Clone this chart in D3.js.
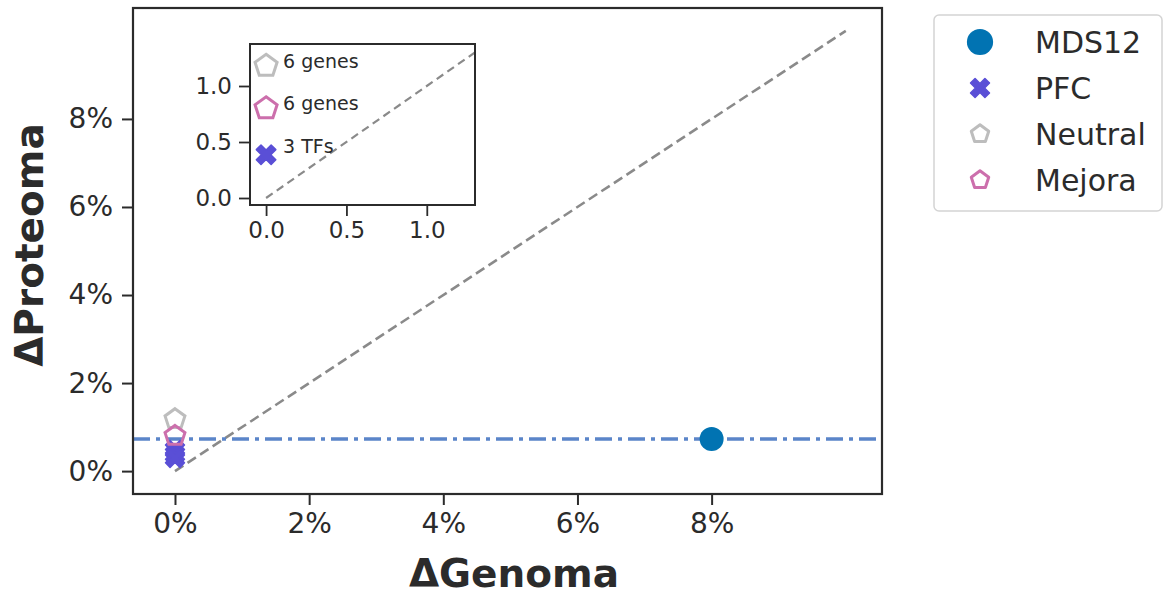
<!DOCTYPE html>
<html>
<head>
<meta charset="utf-8">
<script src="https://cdn.jsdelivr.net/npm/d3@7"></script>
<style>
  html, body { margin: 0; padding: 0; background: #fff; }
  svg { display: block; font-family: "DejaVu Sans", sans-serif; }
</style>
</head>
<body>
<svg id="chart" width="1163" height="596"></svg>
<script>
// ---- data (percent) ----
const mdsX = [8.0];
const mdsY = [0.73];
const pfcX = [0, 0, 0];
const pfcY = [0.48, 0.38, 0.30];
const neutralX = [0];
const neutralY = [1.18];
const mejoraX = [0];
const mejoraY = [0.80];
const baseline = 0.73;            // horizontal reference level
const diagonalEnd = 10;           // y = x reference line extent
const xTicks = [0, 2, 4, 6, 8];
const yTicks = [0, 2, 4, 6, 8];
const insetTicks = [0.0, 0.5, 1.0];
const insetLabels = ["6 genes", "6 genes", "3 TFs"];
const legendNames = ["MDS12", "PFC", "Neutral", "Mejora"];

const C = {
  mds: "#0173b2",
  pfc: "#5a4fd6",
  neutral: "#bdbdbd",
  mejora: "#cc6fac",
  hline: "#5b85c9",
  diag: "#8a8a8a",
  text: "#2b2b2b"
};

// custom marker shapes
const pentagon = {
  draw(ctx, size) {
    const r = Math.sqrt(size / 2.378);
    for (let i = 0; i < 5; i++) {
      const a = -Math.PI / 2 + i * 2 * Math.PI / 5;
      const x = r * Math.cos(a), y = r * Math.sin(a);
      i ? ctx.lineTo(x, y) : ctx.moveTo(x, y);
    }
    ctx.closePath();
  }
};
const thickX = {
  draw(ctx, size) {
    const r = Math.sqrt(size) / 2, w = r * 0.48;
    const pts = [[0, -w], [r - w, -r], [r, -r + w], [w, 0], [r, r - w], [r - w, r],
                 [0, w], [-r + w, r], [-r, r - w], [-w, 0], [-r, -r + w], [-r + w, -r]];
    pts.forEach((p, i) => i ? ctx.lineTo(p[0], p[1]) : ctx.moveTo(p[0], p[1]));
    ctx.closePath();
  }
};

const svg = d3.select("#chart");

// ---- main axes ----
const M = { left: 133, right: 882, top: 8, bottom: 494 };
const x = d3.scaleLinear().domain([-0.626, 10.54]).range([M.left, M.right]);
const y = d3.scaleLinear().domain([-0.52, 10.52]).range([M.bottom, M.top]);

const main = svg.append("g");
main.append("defs").append("clipPath").attr("id", "mainClip")
  .append("rect").attr("x", M.left).attr("y", M.top)
  .attr("width", M.right - M.left).attr("height", M.bottom - M.top);

const plot = main.append("g").attr("clip-path", "url(#mainClip)");

// reference lines
plot.append("line")
  .attr("x1", x(0)).attr("y1", y(0)).attr("x2", x(diagonalEnd)).attr("y2", y(diagonalEnd))
  .attr("stroke", C.diag).attr("stroke-width", 2.6).attr("stroke-dasharray", "10,5");
plot.append("line")
  .attr("x1", M.left).attr("x2", M.right).attr("y1", y(baseline)).attr("y2", y(baseline))
  .attr("stroke", C.hline).attr("stroke-width", 3.4).attr("stroke-dasharray", "17,6,4,6");

// markers
plot.selectAll(".neutral").data(neutralY).join("path")
  .attr("transform", (d, i) => `translate(${x(neutralX[i])},${y(d)})`)
  .attr("d", d3.symbol().type(pentagon).size(260))
  .attr("fill", "#fff").attr("stroke", C.neutral).attr("stroke-width", 3);
plot.selectAll(".pfc").data(pfcY).join("path")
  .attr("transform", (d, i) => `translate(${x(pfcX[i])},${y(d)})`)
  .attr("d", d3.symbol().type(thickX).size(360))
  .attr("fill", C.pfc).attr("stroke", C.pfc).attr("stroke-width", 1.5).attr("stroke-linejoin", "round");
plot.selectAll(".mejora").data(mejoraY).join("path")
  .attr("transform", (d, i) => `translate(${x(mejoraX[i])},${y(d)})`)
  .attr("d", d3.symbol().type(pentagon).size(260))
  .attr("fill", "#fff").attr("fill-opacity", 0).attr("stroke", C.mejora).attr("stroke-width", 3);
plot.selectAll(".mds").data(mdsY).join("circle")
  .attr("cx", (d, i) => x(mdsX[i])).attr("cy", d => y(d)).attr("r", 12)
  .attr("fill", C.mds);

// axes
const pct = d => d + "%";
const xAxis = main.append("g").attr("transform", `translate(0,${M.bottom})`)
  .call(d3.axisBottom(x).tickValues(xTicks).tickFormat(pct).tickSize(11).tickPadding(8));
const yAxis = main.append("g").attr("transform", `translate(${M.left},0)`)
  .call(d3.axisLeft(y).tickValues(yTicks).tickFormat(pct).tickSize(11).tickPadding(9));
[xAxis, yAxis].forEach(a => {
  a.select(".domain").remove();
  a.selectAll(".tick line").attr("stroke", C.text).attr("stroke-width", 2);
  a.selectAll(".tick text").attr("fill", C.text).attr("font-size", 28)
    .attr("font-family", "DejaVu Sans");
});
main.append("rect").attr("x", M.left).attr("y", M.top)
  .attr("width", M.right - M.left).attr("height", M.bottom - M.top)
  .attr("fill", "none").attr("stroke", C.text).attr("stroke-width", 2.2);

// axis titles
svg.append("text").attr("x", 514).attr("y", 587)
  .attr("text-anchor", "middle").attr("font-size", 39).attr("font-weight", "bold")
  .attr("fill", C.text).text("ΔGenoma");
svg.append("text").attr("transform", `translate(43,${245}) rotate(-90)`)
  .attr("text-anchor", "middle").attr("font-size", 39).attr("font-weight", "bold")
  .attr("fill", C.text).text("ΔProteoma");

// ---- inset ----
const I = { left: 250, right: 475, top: 44, bottom: 205 };
const ix = d3.scaleLinear().domain([-0.1, 1.3]).range([I.left, I.right]);
const iy = d3.scaleLinear().domain([-0.0625, 1.375]).range([I.bottom, I.top]);

const inset = svg.append("g");
inset.append("rect").attr("x", I.left).attr("y", I.top)
  .attr("width", I.right - I.left).attr("height", I.bottom - I.top).attr("fill", "#fff");
inset.append("defs").append("clipPath").attr("id", "insetClip")
  .append("rect").attr("x", I.left).attr("y", I.top)
  .attr("width", I.right - I.left).attr("height", I.bottom - I.top);
const ip = inset.append("g").attr("clip-path", "url(#insetClip)");
ip.append("line")
  .attr("x1", ix(0)).attr("y1", iy(0)).attr("x2", ix(1.4)).attr("y2", iy(1.4))
  .attr("stroke", C.diag).attr("stroke-width", 2.2).attr("stroke-dasharray", "8,5");

const insetPts = [
  { v: neutralY[0], type: "neutral", label: insetLabels[0] },
  { v: mejoraY[0], type: "mejora", label: insetLabels[1] },
  { v: d3.mean(pfcY), type: "pfc", label: insetLabels[2] }
];
insetPts.forEach(p => {
  const g = ip.append("g").attr("transform", `translate(${ix(0)},${iy(p.v)})`);
  if (p.type === "pfc") {
    g.append("path").attr("d", d3.symbol().type(thickX).size(380))
      .attr("fill", C.pfc).attr("stroke", C.pfc).attr("stroke-width", 1.5).attr("stroke-linejoin", "round");
  } else {
    g.append("path").attr("d", d3.symbol().type(pentagon).size(320))
      .attr("fill", "#fff").attr("stroke", p.type === "neutral" ? C.neutral : C.mejora)
      .attr("stroke-width", 3);
  }
  g.append("text").attr("x", 17).attr("y", p.type === "pfc" ? -2 : 2)
    .attr("font-size", 19).attr("fill", C.text).text(p.label);
});

const ixAxis = inset.append("g").attr("transform", `translate(0,${I.bottom})`)
  .call(d3.axisBottom(ix).tickValues(insetTicks).tickFormat(d3.format(".1f")).tickSize(11).tickPadding(6));
const iyAxis = inset.append("g").attr("transform", `translate(${I.left},0)`)
  .call(d3.axisLeft(iy).tickValues(insetTicks).tickFormat(d3.format(".1f")).tickSize(11).tickPadding(7));
[ixAxis, iyAxis].forEach(a => {
  a.select(".domain").remove();
  a.selectAll(".tick line").attr("stroke", C.text).attr("stroke-width", 1.8);
  a.selectAll(".tick text").attr("fill", C.text).attr("font-size", 23)
    .attr("font-family", "DejaVu Sans");
});
inset.append("rect").attr("x", I.left).attr("y", I.top)
  .attr("width", I.right - I.left).attr("height", I.bottom - I.top)
  .attr("fill", "none").attr("stroke", C.text).attr("stroke-width", 2);

// ---- legend ----
const leg = svg.append("g");
leg.append("rect").attr("x", 934).attr("y", 15).attr("width", 228).attr("height", 196)
  .attr("rx", 5).attr("fill", "#fff").attr("stroke", "#d4d4d4").attr("stroke-width", 1.5);
const legendShapes = [
  { fill: C.mds, stroke: "none", shape: d3.symbolCircle, size: 540 },
  { fill: C.pfc, stroke: C.pfc, shape: thickX, size: 360 },
  { fill: "#fff", stroke: C.neutral, shape: pentagon, size: 200 },
  { fill: "#fff", stroke: C.mejora, shape: pentagon, size: 200 }
];
legendNames.forEach((name, i) => {
  const cy = 42 + i * 46;
  const s = legendShapes[i];
  leg.append("path").attr("transform", `translate(980,${cy})`)
    .attr("d", d3.symbol().type(s.shape).size(s.size))
    .attr("fill", s.fill).attr("stroke", s.stroke).attr("stroke-width", i > 1 ? 3 : 1.5)
    .attr("stroke-linejoin", "round");
  leg.append("text").attr("x", 1035).attr("y", cy).attr("dy", "0.36em")
    .attr("font-size", 30).attr("fill", C.text).text(name);
});
</script>
</body>
</html>
